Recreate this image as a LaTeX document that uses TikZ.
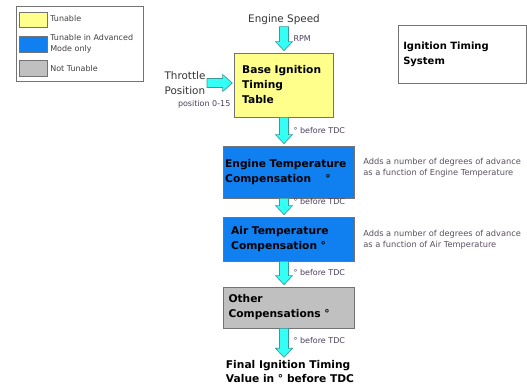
\documentclass[tikz,border=0pt]{standalone}
\usepackage{fontspec}
\setmainfont{DejaVu Sans}
\usepackage{tikz}
\usetikzlibrary{positioning,calc}
\definecolor{TuneYellow}{HTML}{FFFF8C}
\definecolor{AdvBlue}{HTML}{1080F0}
\definecolor{NoTuneGray}{HTML}{C0C0C0}
\definecolor{FlowCyan}{HTML}{33FFF5}
\definecolor{FlowEdge}{HTML}{3A9A9A}
\definecolor{LabelInk}{HTML}{4A3F5C}
\definecolor{SideInk}{HTML}{5A4F5F}

% block arrows between named points
\newcommand{\flowdown}[2]{%
  \filldraw[flowarrow] let \p1=(#1), \p2=(#2) in
    (\x1-3.4pt,\y1) -- (\x1+3.4pt,\y1) -- (\x1+3.4pt,\y2+8.25pt) -- (\x1+6.4pt,\y2+8.25pt)
    -- (\x1,\y2+1.5pt) -- (\x1-6.4pt,\y2+8.25pt) -- (\x1-3.4pt,\y2+8.25pt) -- cycle;}
\newcommand{\flowright}[2]{%
  \filldraw[flowarrow] let \p1=(#1), \p2=(#2) in
    (\x1,\y1+3.4pt) -- (\x2-8.25pt,\y1+3.4pt) -- (\x2-8.25pt,\y1+6.4pt) -- (\x2-1pt,\y1)
    -- (\x2-8.25pt,\y1-6.4pt) -- (\x2-8.25pt,\y1-3.4pt) -- (\x1,\y1-3.4pt) -- cycle;}

\begin{document}
\begin{tikzpicture}[
      x=0.75pt, y=-0.75pt,
      stage/.style={rectangle, draw=black!55, line width=0.6pt, align=left,
                    font=\fontsize{8}{11.25}\selectfont\bfseries, inner xsep=0pt},
      swatch/.style={rectangle, draw=black!55, line width=0.6pt,
                     minimum width=21pt, minimum height=11pt, inner sep=0pt},
      keytext/.style={anchor=west, align=left, inner sep=0pt, text=black!75,
                      font=\fontsize{6}{8.5}\selectfont},
      tag/.style={anchor=west, inner sep=1pt, text=LabelInk,
                  font=\fontsize{6}{7.5}\selectfont},
      note/.style={anchor=west, align=left, inner sep=0pt, text=SideInk,
                   font=\fontsize{6.2}{8}\selectfont},
      source/.style={align=left, inner sep=1pt, text=black!80,
                     font=\fontsize{7.8}{11}\selectfont},
      flowarrow/.style={fill=FlowCyan, draw=FlowEdge, line width=0.5pt, line join=miter}
    ]
      \useasboundingbox (0,0) rectangle (527,387);
      \coordinate (spine) at (284,0);

      %% legend
      \node[draw=black!55, line width=0.6pt, minimum width=95.25pt, minimum height=56.25pt,
            inner sep=0pt] (legend) at (79.5,43.5) {};
      \node[swatch, fill=TuneYellow] (keyyellow) at (33,20) {};
      \node[swatch, fill=AdvBlue, minimum height=12pt] (keyblue) at (33,44) {};
      \node[swatch, fill=NoTuneGray, minimum height=12pt] (keygray) at (33,68) {};
      \node[keytext] at (50,19) {Tunable};
      \node[keytext] at (50,44) {Tunable in Advanced\\Mode only};
      \node[keytext] at (50,69) {Not Tunable};

      %% title
      \node[draw=black!55, line width=0.6pt, minimum width=96pt, minimum height=43.5pt,
            inner sep=0pt] (titlebox) at (462,54) {};
      \node[anchor=west, align=left, inner sep=0pt,
            font=\fontsize{7.5}{11.25}\selectfont\bfseries] (title) at (403,54.5)
          {Ignition Timing\\System};

      %% stages
      \node[stage, fill=TuneYellow, minimum width=74.25pt, minimum height=48pt,
            text width=62pt, inner xsep=6pt] (base) at (283.5,85)
          {Base Ignition\\Timing\\Table};
      \node[stage, fill=AdvBlue, minimum width=98.25pt, minimum height=39pt,
            text width=95pt, inner xsep=1.6pt] (engtemp) at (288.5,172)
          {Engine Temperature\\Compensation\quad\ °};
      \node[stage, fill=AdvBlue, minimum width=98.25pt, minimum height=33pt,
            text width=86pt, inner xsep=6.2pt] (airtemp) at (288.5,239)
          {Air Temperature\\Compensation °};
      \node[stage, fill=NoTuneGray, minimum width=98.25pt, minimum height=30.75pt,
            text width=90pt, inner xsep=4.2pt] (other) at (288.5,307.5)
          {Other\\Compensations °};
      \node[align=left, inner sep=1pt, font=\fontsize{8}{10.5}\selectfont\bfseries]
          (final) at (290,372) {Final Ignition Timing\\Value in ° before TDC};

      %% inputs
      \node[source] (speed) at (284,20) {Engine Speed};
      \node[source] (throttle) at (185,83) {Throttle\\Position};
      \node[tag, anchor=east] at (232,104) {position 0-15};
      \node[tag] at (292,39) {RPM};

      %% side notes
      \node[note] at (363,168) {Adds a number of degrees of advance\\as a function of Engine Temperature};
      \node[note] at (363,239.5) {Adds a number of degrees of advance\\as a function of Air Temperature};

      %% flow
      \flowdown{speed.south}{base.north};
      \flowright{throttle.east}{base.west};
      \flowdown{base.south -| spine}{engtemp.north};
      \flowdown{engtemp.south -| spine}{airtemp.north};
      \flowdown{airtemp.south -| spine}{other.north};
      \flowdown{other.south -| spine}{final.north};

      \node[tag] at (292,131) {° before TDC};
      \node[tag] at (292,202) {° before TDC};
      \node[tag] at (292,273) {° before TDC};
      \node[tag] at (292,341) {° before TDC};
    \end{tikzpicture}
\end{document}
